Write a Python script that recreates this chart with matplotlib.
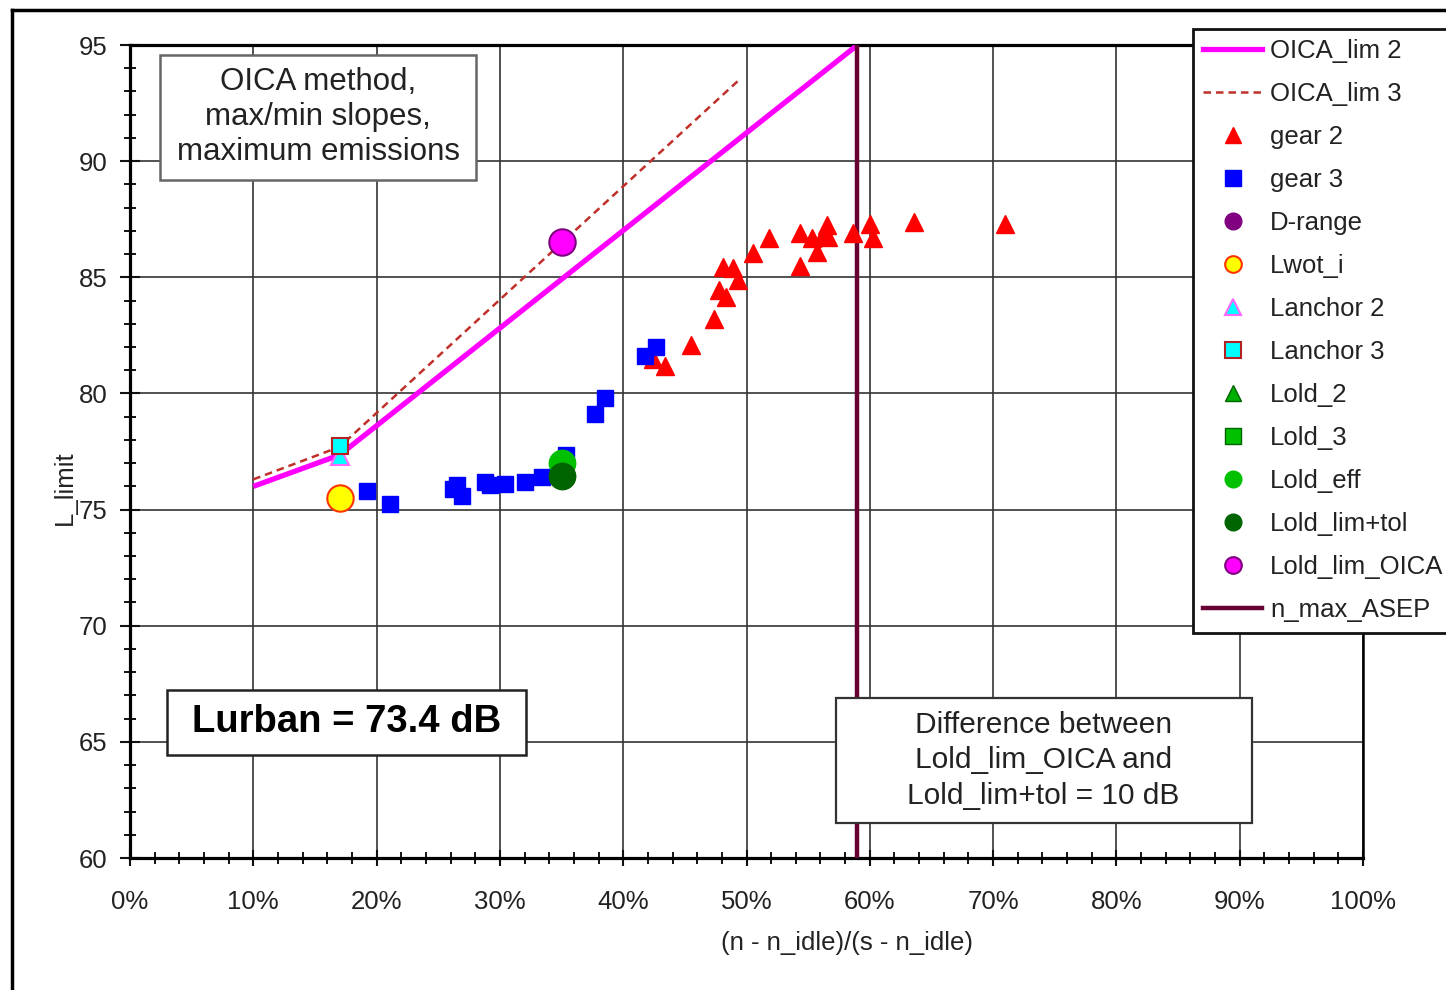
import matplotlib
matplotlib.use("Agg")
import matplotlib.pyplot as plt
from matplotlib.lines import Line2D
from matplotlib.patches import Rectangle
from matplotlib.ticker import MultipleLocator, FuncFormatter

plt.rcParams['font.family'] = ['Liberation Sans', 'DejaVu Sans']

# ---------------- data ----------------
oica_lim2_x = [10, 17, 59]
oica_lim2_y = [76.0, 77.35, 95.0]
oica_lim3_x = [10, 17, 49.3]
oica_lim3_y = [76.3, 77.7, 93.45]

gear2_x = [42.4, 43.4, 45.5, 47.4, 47.8, 48.3, 48.1, 48.9, 49.3, 50.5, 51.8, 54.3,
           54.3, 55.3, 55.7, 56.2, 56.5, 56.6, 58.6, 60.0, 60.3, 63.6, 71.0]
gear2_y = [81.5, 81.2, 82.1, 83.2, 84.45, 84.15, 85.45, 85.4, 84.9, 86.05, 86.7, 85.5,
           86.9, 86.7, 86.1, 86.8, 87.25, 86.75, 86.9, 87.3, 86.7, 87.4, 87.3]

gear3_x = [19.2, 21.1, 26.2, 26.5, 26.9, 28.8, 29.2, 30.4, 32.0, 33.4, 35.4, 37.7, 38.5, 41.8, 42.7]
gear3_y = [75.8, 75.25, 75.9, 76.05, 75.6, 76.2, 76.05, 76.1, 76.2, 76.4, 77.35, 79.1, 79.8, 81.6, 82.0]

drange_x, drange_y = [], []
lwot_x, lwot_y = [17.0], [75.5]
lanchor2_x, lanchor2_y = [17.0], [77.3]
lanchor3_x, lanchor3_y = [17.0], [77.75]
lold2_x, lold2_y = [], []
lold3_x, lold3_y = [], []
lold_eff_x, lold_eff_y = [35.0], [77.0]
lold_tol_x, lold_tol_y = [35.0], [76.45]
lold_oica_x, lold_oica_y = [35.0], [86.5]
n_max_asep = 59.0

x_ticks = [0, 10, 20, 30, 40, 50, 60, 70, 80, 90, 100]
y_ticks = [60, 65, 70, 75, 80, 85, 90, 95]

# ---------------- figure ----------------
W, H = 1446, 990
fig = plt.figure(figsize=(W / 100, H / 100), dpi=100)
ax = fig.add_axes([130 / W, 1 - 858 / H, (1363 - 130) / W, (858 - 45) / H])
ax.set_xlim(0, 100)
ax.set_ylim(60, 95)

ax.set_xticks(x_ticks)
ax.set_yticks(y_ticks)
ax.xaxis.set_major_formatter(FuncFormatter(lambda v, p: f"{int(round(v))}%"))
ax.xaxis.set_minor_locator(MultipleLocator(2))
ax.yaxis.set_minor_locator(MultipleLocator(1))
ax.tick_params(axis='x', which='major', direction='inout', length=12, width=1.5,
               labelsize=18.5, pad=17, colors='#111111')
ax.tick_params(axis='x', which='minor', direction='inout', length=8, width=1.3)
ax.tick_params(axis='y', which='major', direction='inout', length=14, width=1.5,
               labelsize=18.5, pad=9, colors='#111111')
ax.tick_params(axis='y', which='minor', direction='inout', length=9, width=1.3)
for lab in ax.get_xticklabels() + ax.get_yticklabels():
    lab.set_color('#222222')

ax.grid(True, which='major', color='#333333', linewidth=1.2, zorder=0)
ax.set_axisbelow(True)
for s in ['left', 'bottom', 'top']:
    ax.spines[s].set_linewidth(2.3)
ax.spines['right'].set_linewidth(1.8)

# lines
ax.plot(oica_lim2_x, oica_lim2_y, color='#FF00FF', lw=3.8, zorder=3, solid_capstyle='butt')
ax.plot(oica_lim3_x, oica_lim3_y, color='#C0302A', lw=1.8, ls=(0, (3, 2)), zorder=4)
ax.axvline(n_max_asep, color='#660033', lw=3.2, zorder=3)

# markers
ax.plot(gear2_x, gear2_y, ls='none', marker='^', ms=12.5, color='#FF0000', mec='#FF0000', zorder=5)
ax.plot(gear3_x, gear3_y, ls='none', marker='s', ms=12, color='#0000FF', mec='#0000FF', zorder=6)
ax.plot(drange_x, drange_y, ls='none', marker='o', ms=12, color='#800080', zorder=6)
ax.plot(lwot_x, lwot_y, ls='none', marker='o', ms=19, mfc='#FFFF00', mec='#FF3300', mew=1.5, zorder=7)
ax.plot(lanchor2_x, lanchor2_y, ls='none', marker='^', ms=13, mfc='#00FFFF', mec='#FF66FF', mew=1.5, zorder=7)
ax.plot(lanchor3_x, lanchor3_y, ls='none', marker='s', ms=12, mfc='#00FFFF', mec='#B22222', mew=1.5, zorder=8)
ax.plot(lold2_x, lold2_y, ls='none', marker='^', ms=12, mfc='#00B000', mec='#006400', zorder=7)
ax.plot(lold3_x, lold3_y, ls='none', marker='s', ms=12, mfc='#00C000', mec='#006400', zorder=7)
ax.plot(lold_eff_x, lold_eff_y, ls='none', marker='o', ms=19, mfc='#00C000', mec='#00C000', zorder=8)
ax.plot(lold_tol_x, lold_tol_y, ls='none', marker='o', ms=19, mfc='#006400', mec='#006400', zorder=9)
ax.plot(lold_oica_x, lold_oica_y, ls='none', marker='o', ms=19, mfc='#FF00FF', mec='#800080', mew=1.5, zorder=9)

# annotation boxes
def box(x0, x1, y0, y1, ec, lw):
    ax.add_patch(Rectangle((x0, y0), x1 - x0, y1 - y0, facecolor='white', edgecolor=ec,
                           lw=lw, zorder=10))

box(2.43, 28.06, 89.19, 94.57, '#666666', 1.8)
ax.text(15.25, 91.9, "OICA method,\nmax/min slopes,\nmaximum emissions", ha='center', va='center',
        fontsize=22.5, color='#222222', linespacing=1.22, zorder=11)

box(3.0, 32.1, 64.44, 67.23, '#222222', 1.8)
ax.text(17.55, 65.84, "Lurban = 73.4 dB", ha='center', va='center', fontsize=27.5,
        fontweight='bold', color='#000000', zorder=11)

box(57.26, 91.0, 61.51, 66.89, '#333333', 1.6)
ax.text(74.1, 64.2, "Difference between\nLold_lim_OICA and\nLold_lim+tol = 10 dB", ha='center',
        va='center', fontsize=21.5, color='#222222', linespacing=1.33, zorder=11)

# axis labels
fig.text(65 / W, 1 - 488 / H, "L_limit", rotation=90, ha='center', va='center', fontsize=18.5, color='#222222')
fig.text(847 / W, 1 - 943 / H, "(n - n_idle)/(s - n_idle)", ha='center', va='center', fontsize=18.5, color='#222222')

# legend
handles = [
    Line2D([], [], color='#FF00FF', lw=3.8),
    Line2D([], [], color='#C0302A', lw=1.8, ls=(0, (3, 2))),
    Line2D([], [], ls='none', marker='^', ms=12, color='#FF0000'),
    Line2D([], [], ls='none', marker='s', ms=11, color='#0000FF'),
    Line2D([], [], ls='none', marker='o', ms=12, color='#800080'),
    Line2D([], [], ls='none', marker='o', ms=12, mfc='#FFFF00', mec='#FF3300', mew=1.5),
    Line2D([], [], ls='none', marker='^', ms=12, mfc='#00FFFF', mec='#FF66FF', mew=1.5),
    Line2D([], [], ls='none', marker='s', ms=11, mfc='#00FFFF', mec='#B22222', mew=1.5),
    Line2D([], [], ls='none', marker='^', ms=12, mfc='#00B000', mec='#006400'),
    Line2D([], [], ls='none', marker='s', ms=11, mfc='#00C000', mec='#006400'),
    Line2D([], [], ls='none', marker='o', ms=12, mfc='#00C000', mec='#00C000'),
    Line2D([], [], ls='none', marker='o', ms=12, mfc='#006400', mec='#006400'),
    Line2D([], [], ls='none', marker='o', ms=12, mfc='#FF00FF', mec='#800080', mew=1.5),
    Line2D([], [], color='#660033', lw=3.2),
]
labels = ["OICA_lim 2", "OICA_lim 3", "gear 2", "gear 3", "D-range", "Lwot_i", "Lanchor 2",
          "Lanchor 3", "Lold_2", "Lold_3", "Lold_eff", "Lold_lim+tol", "Lold_lim_OICA", "n_max_ASEP"]
leg = fig.legend(handles, labels, loc='upper left', bbox_to_anchor=(1193 / W, 1 - 29 / H),
                 borderaxespad=0, fontsize=18.5, frameon=True, fancybox=False, framealpha=1,
                 edgecolor='#111111', handlelength=2.3, handletextpad=0.3, labelspacing=0.74,
                 borderpad=0.4)
leg.get_frame().set_linewidth(2.0)
for t in leg.get_texts():
    t.set_color('#222222')

# outer border of the chart area
fig.add_artist(Line2D([12 / W, 12 / W], [0, 1 - 10 / H], color='black', lw=2.5, transform=fig.transFigure))
fig.add_artist(Line2D([12 / W, 1.0], [1 - 10 / H, 1 - 10 / H], color='black', lw=2.5, transform=fig.transFigure))

fig.savefig("out.png", dpi=100)
